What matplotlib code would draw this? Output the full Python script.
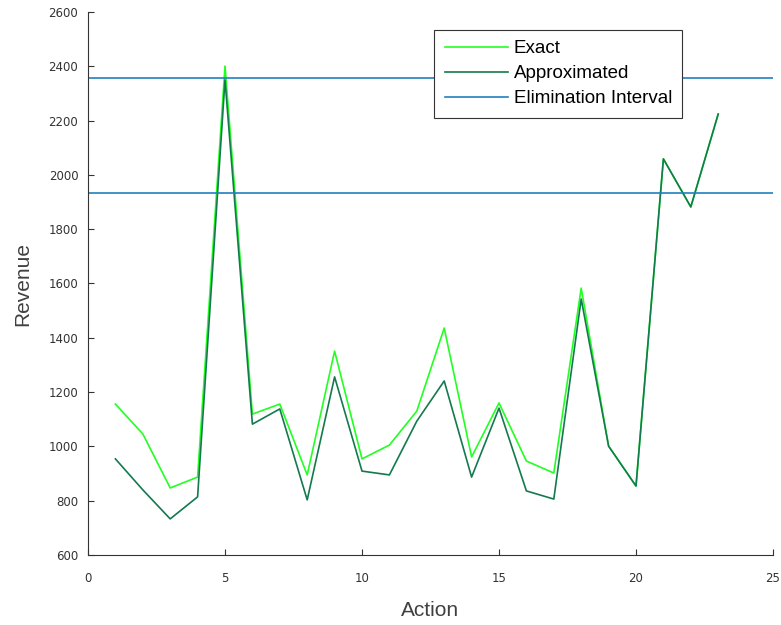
import numpy as np
import matplotlib.pyplot as plt

actions = np.arange(1, 24)
exact = [1156, 1046, 847, 887, 2401, 1119, 1156, 895, 1351, 954, 1005, 1130,
         1436, 961, 1160, 946, 902, 1583, 1001, 854, 2059, 1882, 2224]
approx = [954, 840, 733, 814, 2350, 1082, 1138, 803, 1256, 909, 895, 1093,
          1241, 887, 1141, 836, 806, 1543, 1001, 854, 2059, 1882, 2224]
interval = [1933, 2357]

fig = plt.figure(figsize=(7.81, 6.25), dpi=100)
ax = fig.add_axes([88 / 781, 1 - 555 / 625, (773 - 88) / 781, (555 - 12) / 625])

ax.plot(actions, exact, color='#22ff22', lw=1.2, label='Exact')
ax.plot(actions, approx, color='#137a4e', lw=1.2, label='Approximated')
ax.axhline(interval[0], color='#1f80c0', lw=1.2, label='Elimination Interval')
ax.axhline(interval[1], color='#1f80c0', lw=1.2)

ax.set_xlim(0, 25)
ax.set_ylim(600, 2600)
ax.set_xticks(np.arange(0, 26, 5))
ax.set_yticks(np.arange(600, 2601, 200))
ax.spines['top'].set_visible(False)
ax.spines['right'].set_visible(False)
for s in ('left', 'bottom'):
    ax.spines[s].set_color('#333333')
ax.tick_params(direction='in', length=4, labelsize=8.5, colors='#333333')
ax.tick_params(axis='x', pad=12)
ax.tick_params(axis='y', pad=7)
ax.set_xlabel('Action', fontsize=15, color='#404040', labelpad=12,
              family=['Liberation Sans', 'DejaVu Sans'])
ax.set_ylabel('Revenue', fontsize=15, color='#404040', labelpad=12,
              family=['Liberation Sans', 'DejaVu Sans'])

leg = ax.legend(loc='upper left', bbox_to_anchor=(0.5058, 0.9669),
                prop={'family': ['Liberation Sans', 'DejaVu Sans'], 'size': 13.5},
                fancybox=False, framealpha=1, edgecolor='#333333',
                handlelength=3.36, handletextpad=0.32, borderpad=0.55,
                labelspacing=0.42, borderaxespad=0)
leg.get_frame().set_linewidth(0.8)

fig.savefig('out.png', dpi=100)
